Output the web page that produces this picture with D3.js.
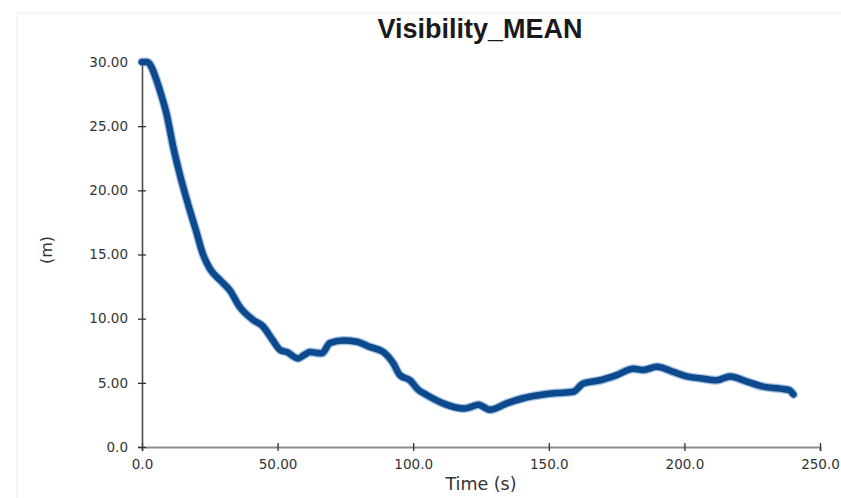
<!DOCTYPE html>
<html>
<head>
<meta charset="utf-8">
<script src="https://cdn.jsdelivr.net/npm/d3@7"></script>
<style>
  body { margin: 0; background: #fff; }
  svg { display: block; }
</style>
</head>
<body>
<div id="chart"></div>
<script>
// time (s) and mean visibility (m)
const times = [0, 2, 3.5, 5, 7, 9, 11.5, 14, 17, 20, 22.5, 25, 28.8, 32.4, 36.1, 41, 44.6, 48.3, 51, 53.4,
  57.5, 60, 62, 64, 66.3, 69.3, 74.2, 79.2, 84, 89, 92.7, 95.1, 98.8, 101.9, 105, 111, 118.5, 121, 124, 128.3,
  134.5, 140.6, 146.8, 152.9, 159, 162.7, 168.9, 175, 181.2, 184.8, 189.8, 196, 200.8, 205.8, 211.9, 216.8,
  223, 229.1, 235.3, 238.5, 240.2];
const visibility = [30.0, 30.0, 29.6, 28.8, 27.5, 26.0, 23.4, 21.2, 18.9, 16.8, 15.0, 13.9, 13.0, 12.2, 10.9, 9.9, 9.4, 8.3, 7.55, 7.4,
  6.9, 7.2, 7.4, 7.35, 7.3, 8.1, 8.3, 8.2, 7.8, 7.4, 6.5, 5.6, 5.2, 4.45, 4.05, 3.4, 3.0, 3.1, 3.3, 2.9,
  3.4, 3.8, 4.05, 4.2, 4.3, 4.95, 5.2, 5.6, 6.1, 6.0, 6.25, 5.85, 5.5, 5.35, 5.2, 5.5,
  5.1, 4.7, 4.55, 4.45, 4.1];

const xTicks = [0, 50, 100, 150, 200, 250];
const xTickLabels = ['0.0', '50.00', '100.0', '150.0', '200.0', '250.0'];
const yTicks = [0, 5, 10, 15, 20, 25, 30];
const yTickLabels = ['0.0', '5.00', '10.00', '15.00', '20.00', '25.00', '30.00'];

const width = 841, height = 498;
const margin = { top: 62, right: 21, bottom: 51, left: 142 };

const svg = d3.select('#chart').append('svg')
  .attr('width', width)
  .attr('height', height);

svg.append('rect').attr('width', width).attr('height', height).attr('fill', '#fff');

// faint frame of the original window
svg.append('path')
  .attr('d', `M17,${height} V13 H${width}`)
  .attr('fill', 'none')
  .attr('stroke', '#ececec')
  .attr('stroke-width', 1);

const x = d3.scaleLinear().domain([0, 250]).range([margin.left, width - margin.right]);
const y = d3.scaleLinear().domain([0, 30]).range([height - margin.bottom, margin.top]);

const font = '"DejaVu Sans", sans-serif';

// x axis
const xAxis = svg.append('g')
  .attr('transform', `translate(0,${y(0)})`)
  .call(d3.axisBottom(x).tickValues(xTicks).tickSize(4).tickPadding(8)
    .tickFormat((d, i) => xTickLabels[i]));
xAxis.select('.domain').attr('stroke', '#8c8c8c').attr('stroke-width', 2);
xAxis.selectAll('.tick line').attr('y1', -4).attr('stroke', '#333').attr('stroke-width', 1.3);
xAxis.selectAll('.tick text')
  .attr('font-family', font).attr('font-size', 13.5).attr('fill', '#333');

// y axis
const yAxis = svg.append('g')
  .attr('transform', `translate(${x(0)},0)`)
  .call(d3.axisLeft(y).tickValues(yTicks).tickSize(4).tickPadding(10)
    .tickFormat((d, i) => yTickLabels[i]));
yAxis.select('.domain').attr('stroke', '#4a4a4a').attr('stroke-width', 1.6);
yAxis.selectAll('.tick line').attr('x1', 4).attr('stroke', '#333').attr('stroke-width', 1.3);
yAxis.selectAll('.tick text')
  .attr('font-family', font).attr('font-size', 13.5).attr('fill', '#333');

// series
const line = d3.line()
  .x((d, i) => x(times[i]))
  .y(d => y(d))
  .curve(d3.curveMonotoneX);

svg.append('path')
  .datum(visibility)
  .attr('d', line)
  .attr('fill', 'none')
  .attr('stroke', '#5b8fcb')
  .attr('stroke-opacity', 0.55)
  .attr('stroke-width', 9)
  .attr('stroke-linecap', 'round')
  .attr('stroke-linejoin', 'round');

svg.append('path')
  .datum(visibility)
  .attr('d', line)
  .attr('fill', 'none')
  .attr('stroke', '#0c4a8d')
  .attr('stroke-width', 6.5)
  .attr('stroke-linecap', 'round')
  .attr('stroke-linejoin', 'round');

// title and axis labels
svg.append('text')
  .attr('x', 480).attr('y', 38)
  .attr('text-anchor', 'middle')
  .attr('font-family', '"Liberation Sans", Arial, sans-serif')
  .attr('font-weight', 'bold')
  .attr('font-size', 27)
  .attr('fill', '#1a1a1a')
  .text('Visibility_MEAN');

svg.append('text')
  .attr('x', 481).attr('y', 490)
  .attr('text-anchor', 'middle')
  .attr('font-family', font)
  .attr('font-size', 17.5)
  .attr('fill', '#333')
  .text('Time (s)');

svg.append('text')
  .attr('transform', 'translate(52,250) rotate(-90)')
  .attr('text-anchor', 'middle')
  .attr('font-family', font)
  .attr('font-size', 16)
  .attr('fill', '#333')
  .text('(m)');
</script>
</body>
</html>
